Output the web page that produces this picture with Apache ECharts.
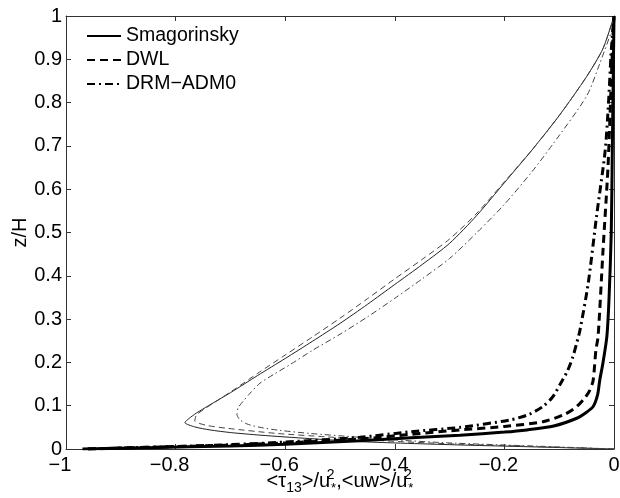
<!DOCTYPE html>
<html>
<head>
<meta charset="utf-8">
<script src="https://cdn.jsdelivr.net/npm/echarts@6/dist/echarts.min.js"></script>
<style>
  html, body { margin: 0; padding: 0; background: #fff; }
  #chart { width: 620px; height: 498px; }
</style>
</head>
<body>
<div id="chart"></div>
<script>
// SGS stress <tau13>/u*^2 (thick lines)
const smagSgsX = [-0.97, -0.85, -0.7, -0.6, -0.464, -0.37, -0.281, -0.2, -0.159, -0.11, -0.068, -0.05, -0.038, -0.03, -0.026, -0.02, -0.013, -0.009, -0.005, -0.003, -0.001, 0];
const smagSgsZ = [0, 0.003, 0.007, 0.011, 0.019, 0.026, 0.032, 0.039, 0.044, 0.053, 0.071, 0.085, 0.098, 0.125, 0.159, 0.2, 0.26, 0.35, 0.5, 0.7, 0.9, 1.0];

const dwlSgsX = [-0.96, -0.85, -0.7, -0.6, -0.464, -0.37, -0.281, -0.2, -0.13, -0.09, -0.068, -0.052, -0.044, -0.038, -0.033, -0.029, -0.02, -0.011, -0.005, -0.002, 0];
const dwlSgsZ = [0, 0.004, 0.009, 0.014, 0.023, 0.034, 0.044, 0.052, 0.063, 0.08, 0.098, 0.12, 0.136, 0.159, 0.229, 0.26, 0.46, 0.65, 0.85, 0.95, 1.0];

const drmSgsX = [-0.96, -0.85, -0.7, -0.6, -0.464, -0.37, -0.281, -0.19, -0.155, -0.13, -0.112, -0.099, -0.085, -0.075, -0.068, -0.062, -0.047, -0.032, -0.016, -0.01, -0.005, 0];
const drmSgsZ = [0, 0.004, 0.01, 0.016, 0.027, 0.04, 0.05, 0.067, 0.08, 0.098, 0.12, 0.148, 0.18, 0.213, 0.245, 0.275, 0.383, 0.536, 0.69, 0.8, 0.92, 1.0];

// resolved stress <uw>/u*^2 (thin lines)
const smagUwX = [0, -0.15, -0.3, -0.4, -0.464, -0.555, -0.646, -0.7, -0.737, -0.765, -0.783, -0.776, -0.762, -0.74, -0.7, -0.65, -0.6, -0.55, -0.5, -0.45, -0.4, -0.35, -0.3, -0.25, -0.2, -0.15, -0.1, -0.05, -0.02, 0];
const smagUwZ = [0, 0.005, 0.01, 0.014, 0.017, 0.024, 0.032, 0.038, 0.044, 0.051, 0.061, 0.07, 0.083, 0.1, 0.13, 0.17, 0.209, 0.249, 0.29, 0.334, 0.38, 0.426, 0.475, 0.54, 0.615, 0.69, 0.77, 0.86, 0.925, 1.0];

const dwlUwX = [0, -0.15, -0.3, -0.42, -0.524, -0.616, -0.707, -0.745, -0.765, -0.762, -0.748, -0.72, -0.69, -0.65, -0.6, -0.55, -0.5, -0.45, -0.4, -0.35, -0.3, -0.25, -0.2, -0.15, -0.1, -0.05, -0.02, 0];
const dwlUwZ = [0, 0.006, 0.012, 0.019, 0.028, 0.036, 0.048, 0.055, 0.065, 0.078, 0.092, 0.115, 0.14, 0.175, 0.217, 0.259, 0.302, 0.347, 0.393, 0.438, 0.485, 0.545, 0.617, 0.69, 0.77, 0.86, 0.925, 1.0];

const drmUwX = [0, -0.15, -0.3, -0.4, -0.464, -0.555, -0.61, -0.646, -0.67, -0.683, -0.688, -0.686, -0.677, -0.664, -0.646, -0.62, -0.591, -0.55, -0.5, -0.45, -0.4, -0.35, -0.3, -0.25, -0.2, -0.15, -0.111, -0.05, -0.026, 0];
const drmUwZ = [0, 0.007, 0.014, 0.021, 0.027, 0.036, 0.043, 0.05, 0.058, 0.068, 0.08, 0.095, 0.11, 0.129, 0.152, 0.173, 0.195, 0.228, 0.265, 0.305, 0.348, 0.393, 0.44, 0.5, 0.565, 0.64, 0.705, 0.815, 0.89, 0.98];

const legendNames = ['Smagorinsky', 'DWL', 'DRM\u2212ADM0'];

const font = 'Liberation Sans';

function pairs(xs, zs) {
    return xs.map((x, i) => [x, zs[i]]);
}

function num(v) {
    return String(Math.round(v * 10) / 10).replace('-', '\u2212');
}

// negative x labels sit a little left of their tick, like the original
function fmtX(v) {
    return v < 0 ? '{neg|' + num(v) + '}' : num(v);
}

function curve(name, xs, zs, width, color, type) {
    return {
        name: name,
        type: 'line',
        data: pairs(xs, zs),
        symbol: 'none',
        smooth: 0.25,
        silent: true,
        lineStyle: { width: width, color: color, type: type },
        itemStyle: { color: color },
        z: width > 2 ? 3 : 2
    };
}

const chart = echarts.init(document.getElementById('chart'));

const boxLine = { show: true, onZero: false, lineStyle: { color: '#333', width: 1 } };
const inTick = { show: true, inside: true, length: 5, lineStyle: { color: '#333' } };

chart.setOption({
    animation: false,
    backgroundColor: '#fff',
    textStyle: { fontFamily: font },
    grid: { left: 66, right: 6, top: 16, bottom: 49, outerBoundsMode: 'none' },
    legend: {
        data: legendNames,
        orient: 'vertical',
        left: 81,
        top: 21,
        itemWidth: 34,
        itemHeight: 14,
        itemGap: 4,
        itemStyle: { opacity: 0 },
        textStyle: { fontSize: 19.5, color: '#000', fontFamily: font },
        selectedMode: false
    },
    xAxis: [{
        type: 'value',
        min: -1,
        max: 0,
        interval: 0.2,
        position: 'bottom',
        axisLine: boxLine,
        axisTick: inTick,
        splitLine: { show: false },
        axisLabel: {
            fontSize: 20, color: '#000', margin: 6, formatter: fmtX,
            rich: { neg: { fontSize: 20, color: '#000', padding: [0, 12, 0, 0] } }
        },
        name: '<\u03c4{sub|13}>/u{sup|2}{sub2|*},<uw>/u{sup|2}{sub2|*}',
        nameLocation: 'middle',
        nameGap: 19,
        nameMoveOverlap: false,
        nameTextStyle: {
            fontSize: 20,
            color: '#000',
            rich: {
                sub: { fontSize: 14, padding: [13, 0, 0, 0] },
                sup: { fontSize: 14, padding: [0, 0, 13, 0], width: 1 },
                sub2: { fontSize: 13, padding: [13, 0, 0, 0] }
            }
        }
    }, {
        type: 'value',
        min: -1,
        max: 0,
        interval: 0.2,
        position: 'top',
        axisLine: boxLine,
        axisTick: inTick,
        splitLine: { show: false },
        axisLabel: { show: false }
    }],
    yAxis: [{
        type: 'value',
        min: 0,
        max: 1,
        interval: 0.1,
        position: 'left',
        axisLine: boxLine,
        axisTick: inTick,
        splitLine: { show: false },
        axisLabel: { fontSize: 20, color: '#000', margin: 4, formatter: num },
        name: 'z/H',
        nameLocation: 'middle',
        nameGap: 36,
        nameRotate: 90,
        nameMoveOverlap: false,
        nameTextStyle: { fontSize: 20, color: '#000' }
    }, {
        type: 'value',
        min: 0,
        max: 1,
        interval: 0.1,
        position: 'right',
        axisLine: boxLine,
        axisTick: inTick,
        splitLine: { show: false },
        axisLabel: { show: false }
    }],
    series: [
        curve(legendNames[0], smagSgsX, smagSgsZ, 3, '#000', 'solid'),
        curve(legendNames[1], dwlSgsX, dwlSgsZ, 3, '#000', [8, 5]),
        curve(legendNames[2], drmSgsX, drmSgsZ, 3, '#000', [8, 4, 2, 4]),
        curve('Smagorinsky uw', smagUwX, smagUwZ, 1, '#222', 'solid'),
        curve('DWL uw', dwlUwX, dwlUwZ, 1, '#444', [6, 4]),
        curve('DRM uw', drmUwX, drmUwZ, 1, '#444', [6, 3, 1.5, 3])
    ]
});
</script>
</body>
</html>
